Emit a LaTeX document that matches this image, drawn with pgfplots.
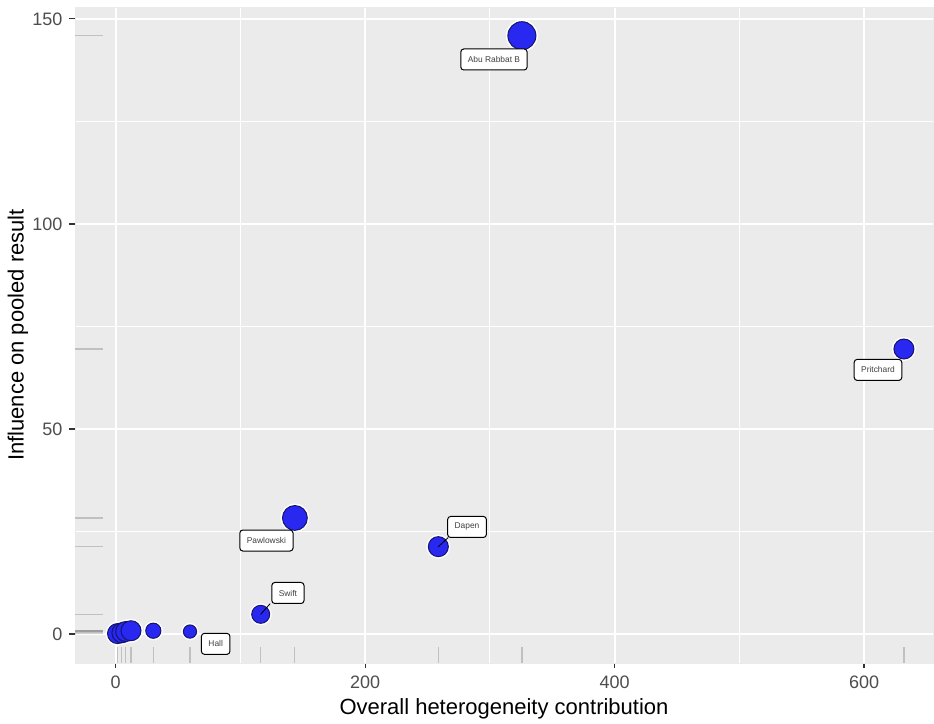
\documentclass[border=0pt]{standalone}
\usepackage{pgfplots}
\pgfplotsset{compat=1.18}
\usepackage{pgfplotstable}
\usepackage{fontspec}
\setmainfont{Liberation Sans}

\definecolor{panel}{HTML}{EBEBEB}
\definecolor{ptfill}{RGB}{40,40,240}
\definecolor{ptdraw}{RGB}{20,20,110}
\definecolor{ticktext}{HTML}{4D4D4D}

% rug marks: short strokes from the panel edge inwards
\pgfdeclareplotmark{rugy}{\pgfpathmoveto{\pgfpointorigin}\pgfpathlineto{\pgfpoint{14pt}{0pt}}\pgfusepathqstroke}
\pgfdeclareplotmark{rugx}{\pgfpathmoveto{\pgfpointorigin}\pgfpathlineto{\pgfpoint{0pt}{8pt}}\pgfusepathqstroke}

% x = heterogeneity contribution, y = influence, s = point radius (pt)
\pgfplotstableread{
x     y     s
1.5   0.1   5.0
5.0   0.3   5.0
8.0   0.6   5.0
12.3  0.8   5.0
30.2  0.8   3.8
59.6  0.6   3.3
116.3 4.8   4.5
258.7 21.3  5.0
143.7 28.3  6.2
632.0 69.5  5.0
325.7 145.9 7.0
}\baujat

\tikzset{lbl/.style={draw=black, fill=white, rounded corners=1.5pt, line width=0.5pt,
  font=\fontsize{4.2}{4.7}\selectfont, text=black!75, inner xsep=3.5pt, inner ysep=0pt,
  minimum height=10.5pt}}

\begin{document}
\begin{tikzpicture}
\begin{axis}[
    name=ax,
    scale only axis,
    width=429pt, height=328pt,
    xmin=-32.6, xmax=655.3,
    ymin=-7.07, ymax=152.9,
    axis background/.style={fill=panel},
    axis line style={draw=panel, line width=0.1pt},
    xtick={0,200,400,600},
    ytick={0,50,100,150},
    minor xtick={100,300,500},
    minor ytick={25,75,125},
    xtick pos=bottom, ytick pos=left,
    grid=both,
    major grid style={white, line width=1pt},
    minor grid style={white, line width=0.5pt},
    tick align=outside,
    major tick length=2.75pt,
    minor tick length=0pt,
    major tick style={draw=black!80, line width=0.6pt},
    ticklabel style={font=\fontsize{9}{10}\selectfont, text=ticktext},
    /pgf/number format/assume math mode=true,
    xlabel={Overall heterogeneity contribution},
    ylabel={Influence on pooled result},
    label style={font=\fontsize{11}{12}\selectfont},
    xlabel style={at={(axis description cs:0.5,0)}, anchor=center, yshift=-23pt},
    ylabel style={at={(axis description cs:0,0.5)}, anchor=center, yshift=28.5pt},
    clip mode=individual,
]
% rugs
\addplot[only marks, mark=rugy, mark options={draw=black, draw opacity=0.18, line width=0.6pt}]
    table[x expr=-32.6, y=y] {\baujat};
\addplot[only marks, mark=rugx, mark options={draw=black, draw opacity=0.18, line width=0.6pt}]
    table[x=x, y expr=-7.07] {\baujat};
% white halo
\addplot[scatter, only marks, mark=*,
    scatter/use mapped color={draw=white, fill=white},
    visualization depends on={\thisrow{s}+0.8 \as \halo},
    scatter/@pre marker code/.append style={/tikz/mark size=\halo}]
    table[x=x, y=y] {\baujat};
% points
\addplot[scatter, only marks, mark=*, mark options={line width=0.5pt},
    scatter/use mapped color={draw=ptdraw, fill=ptfill},
    visualization depends on={\thisrow{s} \as \psize},
    scatter/@pre marker code/.append style={/tikz/mark size=\psize}]
    table[x=x, y=y] {\baujat};
% label connectors
\draw[black, line width=0.4pt] (axis cs:258.7,21.3) -- (axis cs:266.6,23.5);
\draw[black, line width=0.4pt] (axis cs:116.3,4.8) -- (axis cs:123.9,7.4);
% labels
\node[lbl] at (axis cs:303.3,140.1) {Abu Rabbat B};
\node[lbl] at (axis cs:611.2,64.4) {Pritchard};
\node[lbl] at (axis cs:120.9,22.8) {Pawlowski};
\node[lbl] at (axis cs:281.7,26.1) {Dapen};
\node[lbl] at (axis cs:138.1,10.0) {Swift};
\node[lbl] at (axis cs:80.2,-2.4) {Hall};
\end{axis}
\pgfresetboundingbox
\useasboundingbox ([shift={(-37.5pt,-30.5pt)}]ax.south west) rectangle ([shift={(0.5pt,3.5pt)}]ax.north east);
\end{tikzpicture}
\end{document}
